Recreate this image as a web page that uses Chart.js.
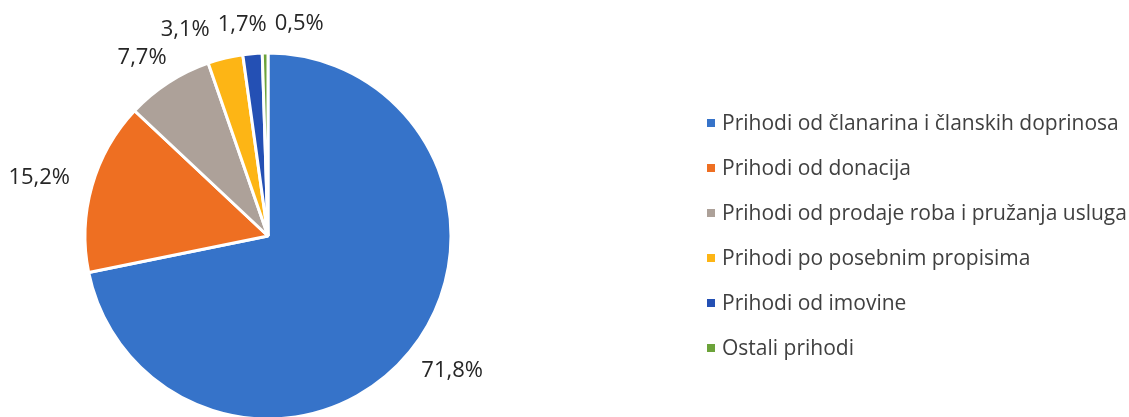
<!DOCTYPE html>
<html>
<head>
<meta charset="utf-8">
<script src="https://cdn.jsdelivr.net/npm/chart.js@4"></script>
<style>
  body { margin: 0; background: #fff; }
  #wrap { position: relative; width: 1129px; height: 417px; overflow: hidden; }
  #legend {
    position: absolute; left: 707px; top: 100px;
    list-style: none; margin: 0; padding: 0;
    font-family: 'Open Sans', sans-serif; font-size: 21px; color: #404040;
  }
  #legend li { height: 45px; line-height: 45px; white-space: nowrap; }
  #legend .box { display: inline-block; width: 8px; height: 8px; margin-right: 7px; vertical-align: middle; position: relative; top: -1px; }
</style>
</head>
<body>
<div id="wrap">
  <canvas id="pieChart" width="1129" height="417"></canvas>
  <ul id="legend"></ul>
</div>
<script>
// Data
const categories = [
    'Prihodi od članarina i članskih doprinosa',
    'Prihodi od donacija',
    'Prihodi od prodaje roba i pružanja usluga',
    'Prihodi po posebnim propisima',
    'Prihodi od imovine',
    'Ostali prihodi'
];
const shares = [71.8, 15.2, 7.7, 3.1, 1.7, 0.5];
const sliceColors = ['#3673c9', '#ee6f22', '#ada199', '#fdb515', '#2450b4', '#6ca33a'];

function formatShare(v) {
    return v.toFixed(1).replace('.', ',') + '%';
}

// Percent labels outside each slice
const outsideLabels = {
    id: 'outsideLabels',
    afterDatasetsDraw(chart) {
        const ctx = chart.ctx;
        const meta = chart.getDatasetMeta(0);
        ctx.save();
        ctx.font = '22px "Open Sans"';
        ctx.fillStyle = '#262626';
        ctx.textAlign = 'center';
        ctx.textBaseline = 'middle';
        const h = 22, gap = 8;
        const boxes = meta.data.map((arc, i) => {
            const p = arc.getProps(['x', 'y', 'startAngle', 'endAngle', 'outerRadius'], true);
            const mid = (p.startAngle + p.endAngle) / 2;
            const dx = Math.cos(mid), dy = Math.sin(mid);
            const text = formatShare(shares[i]);
            const w = ctx.measureText(text).width;
            const r = p.outerRadius + 24;
            return { text, w, cx: p.x + r * dx + dx * w / 2, cy: p.y + r * dy + dy * h / 4 };
        });
        // spread overlapping labels apart sideways
        for (let k = 0; k < 30; k++) {
            for (let i = 0; i < boxes.length; i++) {
                for (let j = i + 1; j < boxes.length; j++) {
                    const a = boxes[i], b = boxes[j];
                    const need = (a.w + b.w) / 2 + gap;
                    if (Math.abs(a.cy - b.cy) < h && Math.abs(a.cx - b.cx) < need) {
                        const push = (need - Math.abs(a.cx - b.cx)) / 2;
                        const s = a.cx <= b.cx ? 1 : -1;
                        a.cx -= s * push;
                        b.cx += s * push;
                    }
                }
            }
        }
        boxes.forEach(b => ctx.fillText(b.text, b.cx, b.cy));
        ctx.restore();
    }
};

document.addEventListener('DOMContentLoaded', function() {
    const legend = document.getElementById('legend');
    categories.forEach((name, i) => {
        const li = document.createElement('li');
        const box = document.createElement('span');
        box.className = 'box';
        box.style.background = sliceColors[i];
        li.appendChild(box);
        li.appendChild(document.createTextNode(name));
        legend.appendChild(li);
    });

    new Chart(document.getElementById('pieChart'), {
        type: 'pie',
        data: {
            labels: categories,
            datasets: [{
                data: shares,
                backgroundColor: sliceColors,
                borderColor: '#ffffff',
                borderWidth: 3
            }]
        },
        options: {
            responsive: false,
            animation: false,
            radius: 183,
            layout: { padding: { left: 86, right: 679, top: 55, bottom: 0 } },
            plugins: {
                legend: { display: false },
                tooltip: { enabled: false }
            }
        },
        plugins: [outsideLabels]
    });
});
</script>
</body>
</html>
